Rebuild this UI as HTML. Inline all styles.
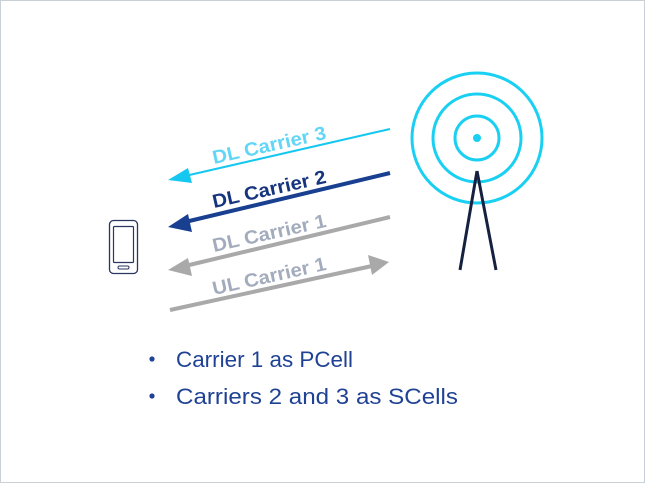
<!DOCTYPE html>
<html><head><meta charset="utf-8"><style>
html,body{margin:0;padding:0;background:#fff}
svg{display:block}
</style></head><body>
<svg width="645" height="483" viewBox="0 0 645 483" xmlns="http://www.w3.org/2000/svg">
<rect x="0.5" y="0.5" width="644" height="482" fill="#fff" stroke="#c9d0d8"/>
<circle cx="477" cy="138" r="65" fill="none" stroke="#1ad0f2" stroke-width="3"/>
<circle cx="477" cy="138" r="44" fill="none" stroke="#1ad0f2" stroke-width="3"/>
<circle cx="477" cy="138" r="22" fill="none" stroke="#1ad0f2" stroke-width="3"/>
<circle cx="477" cy="138" r="4" fill="#1ad0f2"/>
<path d="M477 171 L460 270 M477 171 L496 270" stroke="#15213f" stroke-width="3" fill="none"/>
<rect x="109.5" y="220.5" width="28" height="53" rx="4" fill="none" stroke="#2a3560" stroke-width="1.3"/>
<rect x="113.5" y="226.5" width="20" height="36" rx="1" fill="none" stroke="#2a3560" stroke-width="1.2"/>
<rect x="118" y="266" width="11" height="3" rx="1.5" fill="none" stroke="#2a3560" stroke-width="1"/>
<line x1="390" y1="129" x2="185" y2="176" stroke="#16c8f0" stroke-width="2"/>
<polygon points="168,180 188,168 192,183" fill="#16c8f0"/>
<line x1="390" y1="173" x2="185" y2="222" stroke="#183f90" stroke-width="4"/>
<polygon points="168,227 188,214 192,232" fill="#183f90"/>
<line x1="390" y1="217" x2="185" y2="266" stroke="#a9a9a9" stroke-width="4"/>
<polygon points="168,270 188,258 192,276" fill="#a9a9a9"/>
<line x1="170" y1="310" x2="372" y2="266" stroke="#a9a9a9" stroke-width="4"/>
<polygon points="389,262 368,255 372,275" fill="#a9a9a9"/>
<g font-family="Liberation Sans, sans-serif" font-weight="bold" font-size="19">
<text transform="translate(214,164) rotate(-12.6)" fill="#62d6f6" textLength="116" lengthAdjust="spacingAndGlyphs">DL Carrier 3</text>
<text transform="translate(214,208) rotate(-12.6)" fill="#17357f" textLength="116" lengthAdjust="spacingAndGlyphs">DL Carrier 2</text>
<text transform="translate(214,252) rotate(-12.6)" fill="#a3acbd" textLength="116" lengthAdjust="spacingAndGlyphs">DL Carrier 1</text>
<text transform="translate(214,295) rotate(-12.6)" fill="#a3acbd" textLength="116" lengthAdjust="spacingAndGlyphs">UL Carrier 1</text>
</g>
<g font-family="Liberation Sans, sans-serif" font-size="22" fill="#1f4294">
<circle cx="152" cy="359" r="2.6"/>
<circle cx="152" cy="396" r="2.6"/>
<text x="176" y="367" textLength="177" lengthAdjust="spacingAndGlyphs">Carrier 1 as PCell</text>
<text x="176" y="404" textLength="282" lengthAdjust="spacingAndGlyphs">Carriers 2 and 3 as SCells</text>
</g>
</svg>
</body></html>
